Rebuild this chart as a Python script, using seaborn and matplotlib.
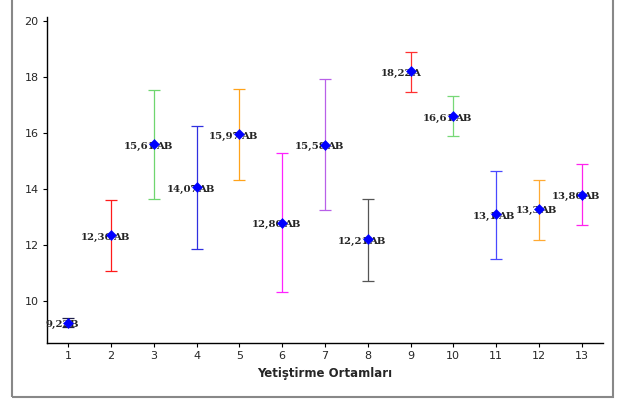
import numpy as np
import pandas as pd
import seaborn as sns
import matplotlib.pyplot as plt
from matplotlib.patches import Rectangle

# values
groups = [1, 2, 3, 4, 5, 6, 7, 8, 9, 10, 11, 12, 13]
means = [9.22, 12.36, 15.61, 14.07, 15.97, 12.80, 15.58, 12.21, 18.22, 16.61, 13.10, 13.30, 13.80]
upper = [9.38, 13.61, 17.54, 16.25, 17.57, 15.28, 17.92, 13.65, 18.89, 17.33, 14.65, 14.31, 14.89]
lower = [9.08, 11.07, 13.64, 11.86, 14.31, 10.32, 13.25, 10.72, 17.46, 15.89, 11.51, 12.18, 12.71]
num_labels = ["9,22", "12,36", "15,61", "14,07", "15,97", "12,80", "15,58",
              "12,21", "18,22", "16,61", "13,1", "13,3", "13,80"]
letters = ["B", "AB", "AB", "AB", "AB", "AB", "AB", "AB", "A", "AB", "AB", "AB", "AB"]
bar_colors = ["#20204a", "#ff1a1a", "#6fd66f", "#3030e0", "#ffa31a", "#ff22ff", "#b860e8",
              "#555555", "#ff3030", "#77d877", "#4848ff", "#ffaa33", "#ff22ee"]

df = pd.DataFrame({"grp": groups, "mean": means, "hi": upper, "lo": lower})

sns.set_style("ticks")
plt.rcParams['font.family'] = ['DejaVu Sans']

fig = plt.figure(figsize=(6.17, 3.99), dpi=100)
ax = fig.add_axes([47 / 617, 56 / 399, 556 / 617, 326 / 399])

# coloured error bars, one per group
for i, row in df.iterrows():
    ax.errorbar(row["grp"], row["mean"],
                yerr=[[row["mean"] - row["lo"]], [row["hi"] - row["mean"]]],
                fmt="none", ecolor=bar_colors[i], elinewidth=0.9, capsize=4, capthick=0.9)

sns.scatterplot(data=df, x="grp", y="mean", ax=ax, marker="D", s=26,
                color="#0000ff", edgecolor="#0000ff", zorder=5, legend=False)

# mean value + group letters
for i, row in df.iterrows():
    ax.annotate(num_labels[i], (row["grp"], row["mean"]), xytext=(1, -1.5),
                textcoords="offset points", ha="right", va="center",
                fontsize=7.3, fontweight="bold", family="DejaVu Serif", zorder=4)
    ax.annotate(letters[i], (row["grp"], row["mean"]), xytext=(1.2, -1.5),
                textcoords="offset points", ha="left", va="center",
                fontsize=7.3, fontweight="bold", family="DejaVu Serif", zorder=4)

ax.set_xlim(0.5, 13.5)
ax.set_ylim(8.5, 20.15)
ax.set_xticks(groups)
ax.set_yticks([10, 12, 14, 16, 18, 20])
ax.tick_params(labelsize=8, length=3, width=0.8, color="black", pad=3)
for s in ["top", "right"]:
    ax.spines[s].set_visible(False)
for s in ["left", "bottom"]:
    ax.spines[s].set_color("black")
    ax.spines[s].set_linewidth(1)
ax.set_xlabel("Yetiştirme Ortamları", fontsize=8.5, fontweight="bold", labelpad=4)
ax.set_ylabel("")

# outer frame of the figure
fig.patches.append(Rectangle((12 / 617, 2 / 399), 601 / 617, 1.2, transform=fig.transFigure,
                             fill=False, edgecolor="#888888", linewidth=1.5))

fig.savefig("out.png", dpi=100)
